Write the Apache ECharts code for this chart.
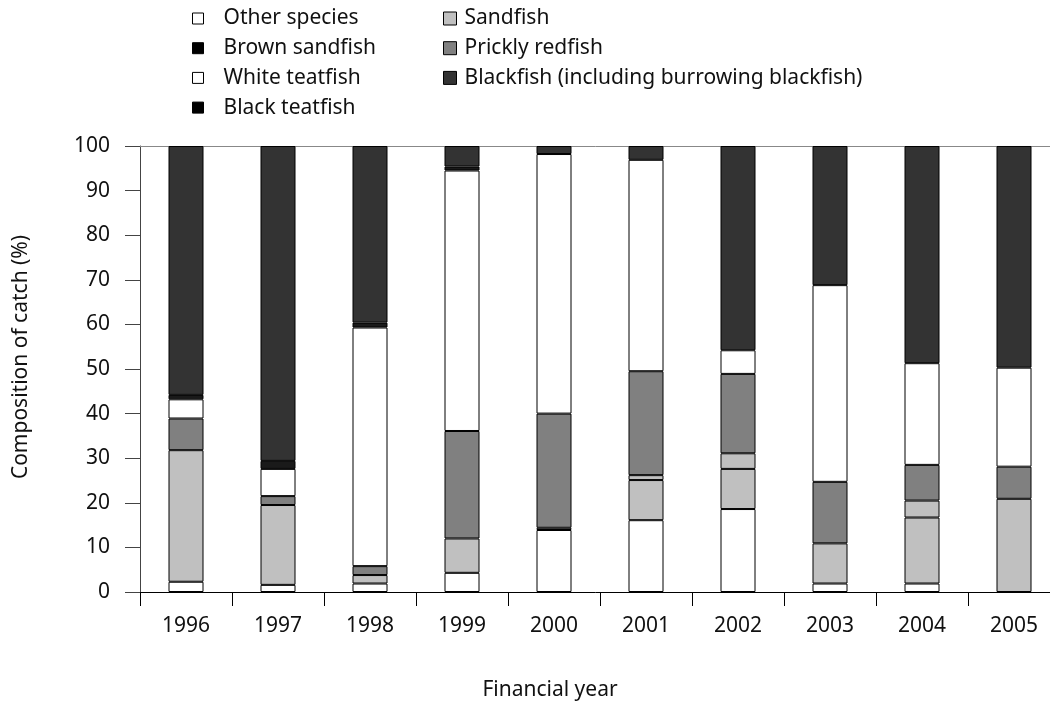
<!DOCTYPE html>
<html>
<head>
<meta charset="utf-8">
<script src="https://cdn.jsdelivr.net/npm/echarts@6/dist/echarts.min.js"></script>
<style>html,body{margin:0;padding:0;background:#fff;}#c{width:1050px;height:702px;}</style>
</head>
<body>
<div id="c"></div>
<script>
const years = ['1996','1997','1998','1999','2000','2001','2002','2003','2004','2005'];
const yTicks = [0,10,20,30,40,50,60,70,80,90,100];
const otherSpecies   = [2.3, 1.6, 1.9, 4.3, 13.9, 16.1, 18.6, 1.9, 1.9, 0];
const sandfish       = [29.5, 17.9, 1.9, 7.7, 0.5, 9.0, 9.0, 9.0, 14.8, 20.9];
const brownSandfish  = [0, 0, 0, 0, 0, 1.1, 3.5, 0, 3.8, 0];
const pricklyRedfish = [7.1, 2.0, 2.0, 24.1, 25.6, 23.3, 17.8, 13.8, 8.0, 7.2];
const whiteTeatfish  = [4.3, 6.1, 53.5, 58.4, 58.2, 47.4, 5.3, 44.1, 22.8, 22.2];
const blackTeatfish  = [1.0, 1.8, 1.1, 0.9, 0, 0, 0, 0, 0, 0];
const blackfish      = [55.8, 70.6, 39.6, 4.6, 1.8, 3.1, 45.8, 31.2, 48.7, 49.7];

const NAMES = {
  other: 'Other species', sand: 'Sandfish', brown: 'Brown sandfish',
  prickly: 'Prickly redfish', white: 'White teatfish', blackTeat: 'Black teatfish',
  blackfish: 'Blackfish (including burrowing blackfish)'
};
const FONT = 'Noto Sans';
const FS = 21;
const stackDefs = [
  [NAMES.other, otherSpecies, '#ffffff'],
  [NAMES.sand, sandfish, '#c0c0c0'],
  [NAMES.brown, brownSandfish, '#c0c0c0'],
  [NAMES.prickly, pricklyRedfish, '#808080'],
  [NAMES.white, whiteTeatfish, '#ffffff'],
  [NAMES.blackTeat, blackTeatfish, '#1a1a1a'],
  [NAMES.blackfish, blackfish, '#333333']
];
const series = stackDefs.map(([name, vals, color]) => ({
  name: name, type: 'bar', stack: 'total', barWidth: 35,
  data: vals.map(v => v === 0 ? '-' : v),
  itemStyle: { color: color, borderColor: '#000', borderWidth: 1 },
  emphasis: { disabled: true }
}));

const legendText = { fontFamily: FONT, fontSize: FS, color: '#111', lineHeight: 20 };
const chart = echarts.init(document.getElementById('c'), null, { renderer: 'canvas' });
chart.setOption({
  animation: false,
  backgroundColor: '#fff',
  legend: [
    {
      orient: 'vertical', left: 192, top: 8, itemGap: 8.7, padding: 0,
      itemWidth: 11, itemHeight: 11, icon: 'rect',
      selectedMode: false,
      textStyle: Object.assign({}, legendText, { padding: [0, 0, 0, 15] }),
      itemStyle: { borderColor: '#000', borderWidth: 1 },
      data: [
        { name: NAMES.other, itemStyle: { color: '#fff' } },
        { name: NAMES.brown, itemStyle: { color: '#000' } },
        { name: NAMES.white, itemStyle: { color: '#fff' } },
        { name: NAMES.blackTeat, itemStyle: { color: '#000' } }
      ]
    },
    {
      orient: 'vertical', left: 443, top: 8, itemGap: 8.7, padding: 0,
      itemWidth: 13, itemHeight: 13, icon: 'rect',
      selectedMode: false,
      textStyle: Object.assign({}, legendText, { padding: [0, 0, 0, 3] }),
      itemStyle: { borderColor: '#000', borderWidth: 1 },
      data: [
        { name: NAMES.sand, itemStyle: { color: '#c0c0c0' } },
        { name: NAMES.prickly, itemStyle: { color: '#808080' } },
        { name: NAMES.blackfish, itemStyle: { color: '#333333' } }
      ]
    }
  ],
  grid: { left: 140, top: 146, width: 920, height: 446, containLabel: false, outerBoundsMode: 'none' },
  xAxis: [
    {
      type: 'category', data: years, position: 'bottom',
      name: 'Financial year', nameLocation: 'middle', nameGap: 88,
      nameTextStyle: { fontFamily: FONT, fontSize: FS, color: '#111', padding: [0, 100, 0, 0] },
      axisLine: { lineStyle: { color: '#000', width: 1 } },
      axisTick: { show: true, length: 14, lineStyle: { color: '#000' } },
      axisLabel: { fontFamily: FONT, fontSize: FS, color: '#111', margin: 24 }
    },
    {
      type: 'category', data: years, position: 'top',
      axisLine: { show: true, lineStyle: { color: '#888', width: 1 } },
      axisTick: { show: false }, axisLabel: { show: false }
    }
  ],
  yAxis: {
    type: 'value', min: yTicks[0], max: yTicks[yTicks.length - 1], interval: 10,
    name: 'Composition of catch (%)', nameLocation: 'middle', nameGap: 108,
    nameTextStyle: { fontFamily: FONT, fontSize: FS, color: '#111', padding: [0, 0, 0, 24] },
    axisLine: { show: true, lineStyle: { color: '#444', width: 1 } },
    axisTick: { show: true, length: 15, lineStyle: { color: '#444' } },
    splitLine: { show: false },
    axisLabel: { fontFamily: FONT, fontSize: FS, color: '#111', margin: 30 }
  },
  series: series
});
</script>
</body>
</html>
